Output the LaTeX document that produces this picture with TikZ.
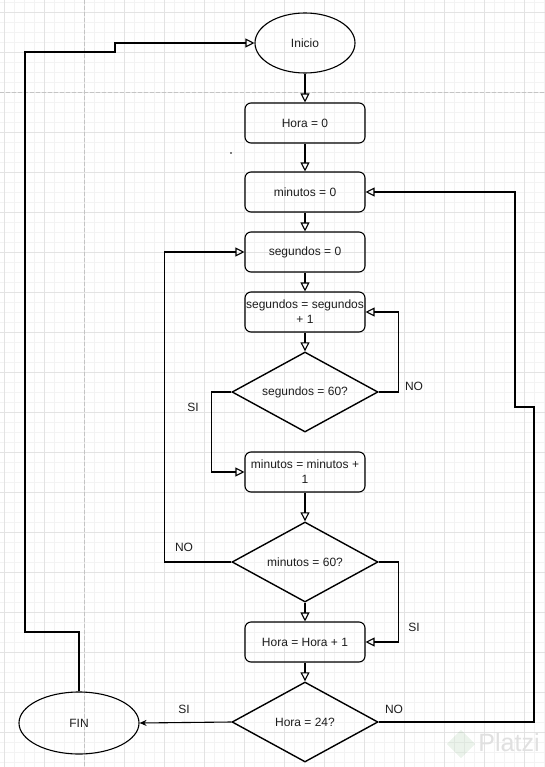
\documentclass[tikz,border=0pt]{standalone}
\usepackage{fontspec}
\setmainfont{Liberation Sans}
\usetikzlibrary{shapes.geometric,arrows.meta}
\definecolor{gridmin}{HTML}{F3F3F3}
\definecolor{gridmaj}{HTML}{E3E3E3}
\definecolor{pagebrk}{HTML}{C4C4C4}
\definecolor{inktext}{HTML}{1E1E1E}
\begin{document}
\begin{tikzpicture}[x=1pt,y=-1pt]
\tikzstyle{every node}+=[inner sep=0pt, text=inktext, font=\fontsize{12}{15}\selectfont]
\tikzstyle{box}=[draw, line width=1.1pt, rounded corners=6pt, minimum width=120pt, minimum height=40pt, align=center]
\tikzstyle{decision}=[draw, diamond, line width=1.4pt, minimum width=146pt, minimum height=80pt, aspect=1.8]
\tikzstyle{term}=[draw, ellipse, line width=1.1pt]
\tikzstyle{flow}=[line width=1.1pt, -{Triangle[open,length=9pt,width=9pt]}]
\useasboundingbox (0,0) rectangle (545,767);
\fill [white] (0,0) rectangle (545,767);
\foreach \gx in {4,14,...,544} \draw [gridmin, line width=0.6pt] (\gx,0) -- (\gx,767);
\foreach \gy in {2,12,...,762} \draw [gridmin, line width=0.6pt] (0,\gy) -- (545,\gy);
\foreach \gx in {4,44,...,524} \draw [gridmaj, line width=0.6pt] (\gx,0) -- (\gx,767);
\foreach \gy in {12,52,...,732} \draw [gridmaj, line width=0.6pt] (0,\gy) -- (545,\gy);
\draw [pagebrk, line width=0.7pt, dash pattern=on 4pt off 2pt] (84,0) -- (84,767);
\draw [pagebrk, line width=0.7pt, dash pattern=on 4pt off 2pt] (0,92) -- (545,92);
\fill [green!40!black, opacity=0.08, rotate around={45:(461,744)}] (451,734) rectangle (471,754);
\node [text=black!12, font=\fontsize{25}{25}\selectfont] (platzi) at (509,743) {Platzi};
\fill [black] (231,153) circle (0.8);
\node [term, minimum width=100pt, minimum height=60pt] (inicio) at (305,43) {Inicio};
\node [box] (hora0) at (305,123) {Hora = 0};
\node [box] (min0) at (305,192) {minutos = 0};
\node [box] (seg0) at (305,252) {segundos = 0};
\node [box] (segInc) at (305,312) {segundos = segundos\\+ 1};
\node [decision] (seg60) at (305,392) {segundos = 60?};
\node [box] (minInc) at (305,472) {minutos = minutos +\\1};
\node [decision] (min60) at (305,562) {minutos = 60?};
\node [box] (horaInc) at (305,642) {Hora = Hora + 1};
\node [decision] (hora24) at (305,722) {Hora = 24?};
\node [term, minimum width=120pt, minimum height=62pt] (fin) at (79,723) {FIN};
\node (noSeg) at (414,386) {NO};
\node (siSeg) at (193,407) {SI};
\node (noMin) at (184,547) {NO};
\node (siMin) at (414,627) {SI};
\node (siHora) at (184,709) {SI};
\node (noHora) at (394,709) {NO};
\coordinate (nhA) at (534,722);
\coordinate (nhB) at (534,407);
\coordinate (nhC) at (515,407);
\coordinate (fnA) at (79,632);
\coordinate (fnB) at (25,632);
\coordinate (fnC) at (25,52);
\coordinate (fnD) at (115,52);
\draw [flow] (inicio) -- (hora0);
\draw [flow] (hora0) -- (min0);
\draw [flow] (min0) -- (seg0);
\draw [flow] (seg0) -- (segInc);
\draw [flow] (segInc) -- (seg60);
\draw [flow] (seg60.east) -- ++(20,0) |- (segInc.east);
\draw [flow] (seg60.west) -- ++(-20,0) |- (minInc.west);
\draw [flow] (minInc) -- (min60);
\draw [flow] (min60.west) -- ++(-67,0) |- (seg0.west);
\draw [flow] (min60) -- (horaInc);
\draw [flow] (min60.east) -- ++(20,0) |- (horaInc.east);
\draw [flow] (horaInc) -- (hora24);
\draw [flow] (hora24.east) -- (nhA) -- (nhB) -- (nhC) |- (min0.east);
\draw [line width=1.1pt, -{Stealth[length=7pt,width=6pt]}] (hora24.west) -- (fin.east);
\draw [flow] (fin.north) -- (fnA) -- (fnB) -- (fnC) -- (fnD) |- (inicio.west);
\end{tikzpicture}
\end{document}
